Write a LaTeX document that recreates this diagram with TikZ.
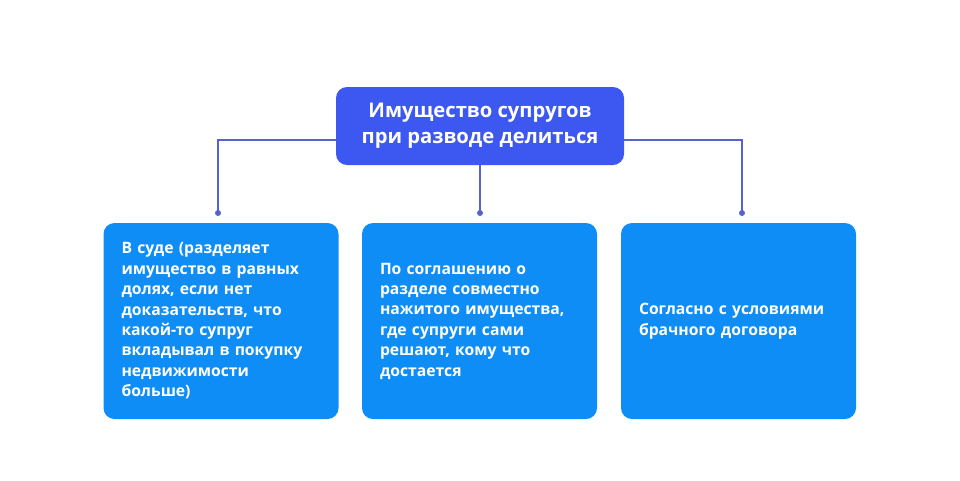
\documentclass[tikz,border=0pt]{standalone}
\usepackage{fontspec}
\setmainfont{Open Sans}
\definecolor{topblue}{RGB}{61,88,240}
\definecolor{boxblue}{RGB}{14,141,246}
\definecolor{linec}{RGB}{88,98,200}
\begin{document}
\begin{tikzpicture}[x=1pt,y=-1pt,
  topbox/.style={fill=topblue, rounded corners=11pt, minimum width=288pt, minimum height=78pt,
    text=white, font=\bfseries\fontsize{20.2}{26}\selectfont, align=center, inner sep=0pt},
  subbox/.style={fill=boxblue, rounded corners=11pt, minimum width=235pt, minimum height=196pt,
    text=white, font=\bfseries\fontsize{15.7}{20.4}\selectfont, align=left, text width=199pt, inner xsep=18pt, inner ysep=0pt},
  conn/.style={draw=linec, line width=1.2pt},
  dotc/.style={fill=linec}]
\useasboundingbox (0,0) rectangle (960,480);
\fill[white] (0,0) rectangle (960,480);
\node[topbox] (top) at (480,126) {Имущество супругов\\при разводе делиться};
\node[subbox] (b1) at (221,321) {В суде (разделяет\\имущество в равных\\долях, если нет\\доказательств, что\\какой-то супруг\\вкладывал в покупку\\недвижимости\\больше)};
\node[subbox] (b2) at (479.5,321) {По соглашению о\\разделе совместно\\нажитого имущества,\\где супруги сами\\решают, кому что\\достается};
\node[subbox] (b3) at (738.5,321) {Согласно с условиями\\брачного договора};
\coordinate (d1) at (218,213);
\coordinate (d2) at (480,213);
\coordinate (d3) at (742,213);
\draw[conn] ([yshift=-14pt]top.west) -| (d1);
\draw[conn] (top.south) -- (d2);
\draw[conn] ([yshift=-14pt]top.east) -| (d3);
\fill[dotc] (d1) circle (3);
\fill[dotc] (d2) circle (3);
\fill[dotc] (d3) circle (3);
\end{tikzpicture}
\end{document}
